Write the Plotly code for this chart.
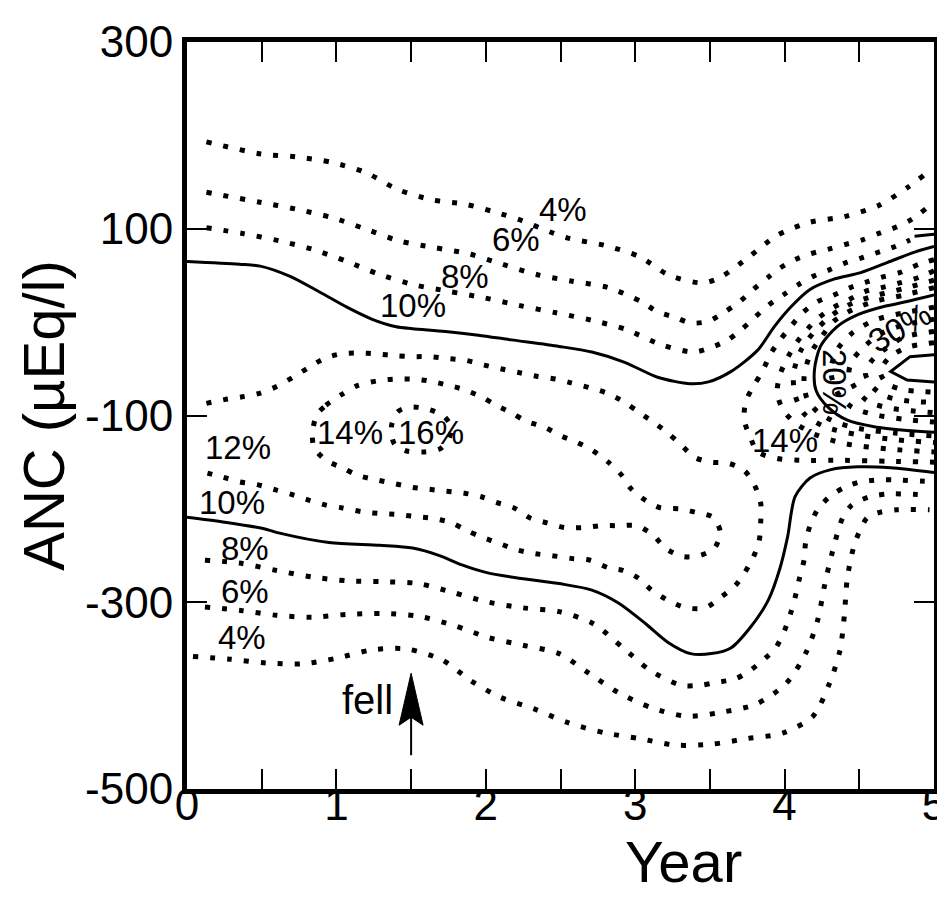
import plotly.graph_objects as go

# ---------------- data: contour lines, (Year, ANC in µEq/l) ----------------
# upper (top-left) family
c04_up_x = [0.13,0.5,0.73,0.97,1.2,1.41,1.64,1.87,2.1,2.22,2.44,2.55,2.8,3.03,3.23,3.45,3.57,3.77,3.95,4.17,4.4,4.63,4.83,4.93]
c04_up_y = [193,180,177,171,160,142,131,126,116,110,96,90,82,70,50,42,48,71,93,107,113,125,145,157]
c06_up_x = [0.13,0.5,0.73,0.97,1.19,1.42,1.65,1.89,2.11,2.34,2.57,2.82,3.04,3.15,3.27,3.37,3.49,3.6,3.7,3.79,3.89,3.97,4.07,4.17,4.29,4.4,4.52,4.63,4.75,4.85,4.95]
c06_up_y = [139,128,121,112,100,87,80,73,62,51,44,37,22,11,5,-1,1,11,22,35,48,58,67,73,78,83,88,95,102,110,122]
c08_up_x = [0.13,0.37,0.62,0.84,1.07,1.29,1.52,1.75,1.99,2.22,2.47,2.71,2.94,3.17,3.39,3.51,3.62,3.71,3.8,3.89,3.99,4.09,4.19,4.3,4.4,4.52,4.63,4.74,4.84]
c08_up_y = [101,95,87,78,65,51,40,33,26,18,10,2,-8,-24,-32,-27,-19,-8,5,18,29,40,49,56,63,69,75,81,88]
c08_stub_x = [4.87,5.0]
c08_stub_y = [92,94]
c10_up_x = [0,0.35,0.49,0.69,0.89,1.07,1.24,1.4,1.51,1.73,1.95,2.17,2.49,2.71,2.93,3.15,3.37,3.49,3.64,3.82,3.93,4.04,4.17,4.33,4.51,4.69,4.87,5.0]
c10_up_y = [65,62,60,49,32,16,3,-5,-7,-10,-14,-19,-26,-32,-43,-59,-66,-64,-53,-30,-5,16,35,46,53,64,75,81]

# left maximum (year ~1.5)
c12_x = [0.13,0.25,0.37,0.49,0.6,0.71,0.81,0.92,1.03,1.15,1.27,1.4,1.51,1.63,1.75,1.87,1.99,2.1,2.22,2.34,
         2.47,2.57,2.69,2.81,2.92,3.02,3.12,3.22,3.31,3.4,3.51,3.62,3.73,3.8,3.84,3.84,3.83,3.79,3.73,3.67,
         3.57,3.47,3.34,3.22,3.11,3.02,2.92,2.82,2.7,2.57,2.44,2.33,2.21,2.09,1.97,1.87,1.77,1.64,1.52,1.41,
         1.29,1.17,1.04,0.93,0.82,0.71,0.6,0.47,0.35,0.24,0.12]
c12_y = [-87,-83,-80,-76,-69,-59,-49,-39,-34,-33,-34,-36,-37,-37,-39,-41,-46,-50,-54,-58,
         -61,-65,-70,-76,-85,-96,-107,-119,-132,-145,-150,-151,-159,-175,-194,-214,-234,-252,-269,-282,
         -295,-306,-306,-298,-287,-274,-266,-263,-255,-253,-250,-248,-244,-237,-230,-223,-215,-210,-208,-206,
         -205,-203,-199,-196,-191,-185,-180,-174,-171,-166,-161]
c14_x = [0.87,0.93,1.04,1.14,1.27,1.39,1.51,1.62,1.73,1.85,1.97,2.07,2.17,2.27,2.4,2.49,2.6,2.71,2.82,2.91,
         2.97,3.07,3.17,3.3,3.41,3.52,3.57,3.53,3.43,3.32,3.2,3.12,3.01,2.9,2.77,2.65,2.53,2.41,2.3,2.19,
         2.07,1.97,1.85,1.73,1.62,1.51,1.39,1.27,1.14,1.04,0.93,0.85,0.84,0.87]
c14_y = [-99,-89,-77,-68,-63,-61,-61,-63,-67,-72,-80,-89,-97,-106,-113,-121,-128,-137,-150,-164,
         -178,-191,-199,-200,-204,-209,-225,-242,-250,-251,-242,-228,-218,-218,-218,-220,-220,-215,-210,-199,
         -193,-187,-183,-181,-179,-177,-173,-169,-164,-156,-148,-134,-118,-99]
c16_x = [1.37,1.41,1.49,1.61,1.72,1.77,1.75,1.69,1.59,1.47,1.39,1.37,1.37]
c16_y = [-110,-96,-91,-93,-101,-113,-126,-136,-139,-138,-131,-121,-110]

# lower family
c10_lo_x = [0,0.24,0.51,0.62,0.95,1.29,1.51,1.69,1.84,2.0,2.17,2.49,2.71,2.89,3.07,3.22,3.37,3.51,3.64,3.77,3.89,3.97,4.02,4.07,4.17,4.31,4.49,4.71,5.0]
c10_lo_y = [-209,-214,-221,-226,-236,-239,-242,-250,-260,-268,-273,-280,-287,-301,-323,-343,-355,-355,-349,-327,-298,-263,-230,-187,-167,-158,-155,-156,-161]
c08_lo_x = [0.12,0.35,0.6,0.84,1.07,1.31,1.55,1.79,2.02,2.25,2.49,2.72,2.92,3.1,3.31,3.43,3.54,3.67,3.77,3.87,3.94,4.0,4.04,4.07,4.1,4.13,4.14,4.17,4.22,4.3,4.4,4.51,4.63,4.75,4.99]
c08_lo_y = [-255,-258,-266,-273,-277,-278,-280,-290,-300,-306,-310,-323,-349,-373,-389,-389,-386,-382,-373,-360,-349,-330,-312,-295,-274,-255,-237,-218,-201,-187,-177,-171,-169,-169,-171]
c06_lo_x = [0.12,0.37,0.6,0.84,1.07,1.31,1.55,1.79,2.02,2.25,2.49,2.69,2.89,3.11,3.34,3.57,3.81,4.01,4.14,4.22,4.27,4.32,4.39,4.45,4.57,4.7,4.94]
c06_lo_y = [-305,-309,-314,-316,-313,-312,-315,-325,-338,-346,-355,-376,-397,-413,-422,-418,-409,-387,-355,-320,-280,-246,-209,-196,-187,-184,-185]
c04_lo_x = [0.04,0.29,0.53,0.77,1.0,1.24,1.47,1.71,1.9,2.1,2.32,2.55,2.8,3.03,3.27,3.51,3.75,3.99,4.19,4.3,4.37,4.4,4.42,4.47,4.55,4.63,4.75,4.97]
c04_lo_y = [-358,-361,-365,-366,-360,-351,-350,-362,-384,-402,-414,-429,-440,-446,-453,-452,-446,-440,-422,-387,-352,-314,-274,-237,-210,-204,-201,-201]

# right maximum (year ~5)
r12_x = [5.0,4.9,4.77,4.67,4.55,4.44,4.33,4.22,4.12,4.04,3.97,3.91,3.85,3.79,3.74,3.73,3.77,3.82,3.95,4.1,4.4,4.7,5.0]
r12_y = [67,62,53,49,43,37,29,22,10,-5,-19,-33,-53,-69,-85,-105,-123,-139,-146,-148,-148,-149,-150]
r14_x = [5.0,4.9,4.77,4.65,4.54,4.43,4.33,4.23,4.15,4.08,4.02,3.97,3.95,3.99,4.07,4.2,4.4,4.7,5.0]
r14_y = [55,48,42,37,33,24,16,5,-8,-22,-38,-56,-76,-94,-108,-120,-130,-136,-139]
r16_x = [5.0,4.8,4.6,4.45,4.32,4.2,4.11,4.06,4.07,4.13,4.27,4.5,4.75,5.0]
r16_y = [45,36,28,20,8,-10,-30,-55,-78,-98,-112,-121,-126,-129]
r18_x = [5.0,4.8,4.6,4.45,4.33,4.25,4.17,4.13,4.15,4.22,4.34,4.5,4.75,5.0]
r18_y = [37,29,22,13,1,-15,-35,-60,-82,-96,-107,-114,-119,-122]
r20_x = [5.0,4.82,4.67,4.49,4.35,4.24,4.2,4.21,4.29,4.42,4.6,4.82,5.0]
r20_y = [29,22,17,8,-5,-26,-51,-73,-91,-105,-112,-116,-118]
r22_x = [5.0,4.8,4.6,4.45,4.35,4.31,4.32,4.36,4.45,4.6,4.8,5.0]
r22_y = [16,10,2,-12,-30,-50,-62,-77,-91,-99,-104,-107]
r24_x = [5.0,4.8,4.65,4.52,4.45,4.43,4.48,4.57,4.7,4.85,5.0]
r24_y = [3,-3,-12,-28,-42,-55,-73,-86,-92,-95,-97]
r26_x = [5.0,4.8,4.68,4.58,4.54,4.58,4.67,4.8,5.0]
r26_y = [-10,-16,-28,-42,-54,-68,-79,-84,-86]
r28_x = [5.0,4.82,4.7,4.64,4.68,4.78,5.0]
r28_y = [-22,-27,-38,-53,-65,-72,-75]
r30_x = [5.0,4.84,4.71,4.82,5.0]
r30_y = [-35,-37,-53,-62,-64]

# contour labels
label_text = ["4%", "6%", "8%", "10%", "12%", "14%", "16%", "10%", "8%", "6%", "4%", "14%", "20%", "30%"]
label_x = [2.52, 2.2, 1.86, 1.51, 0.34, 1.09, 1.63, 0.3, 0.39, 0.39, 0.37, 4.0, 4.33, 4.77]
label_y = [121, 88, 49, 18, -134, -118, -118, -193, -242, -289, -338, -127, -64, -6]
label_angle = [0, 0, 0, 0, 0, 0, 0, 0, 0, 0, 0, 0, 90, -30]

# felling event
fell_year = 1.5
fell_anc = -376
fell_text = "fell"

# axis ticks
x_tickvals = [0, 1, 2, 3, 4, 5]
x_ticktext = ["0", "1", "2", "3", "4", "5"]
x_minorvals = [0.5, 1.5, 2.5, 3.5, 4.5]
y_tickvals = [300, 100, -100, -300, -500]
y_ticktext = ["300", "100", "-100", "-300", "-500"]
x_title = "Year"
y_title = "ANC (µEq/l)"

# ---------------- figure ----------------
FONT = "Liberation Sans, Arial, sans-serif"
DOT = dict(color="black", width=5, dash="5px,12px")
SOLID = dict(color="black", width=3)

fig = go.Figure()

def add(x, y, style, shape="spline"):
    line = dict(**style, shape=shape)
    if shape == "spline":
        line["smoothing"] = 0.8
    fig.add_trace(go.Scatter(x=x, y=y, mode="lines", line=line,
                             hoverinfo="skip", showlegend=False))

for xs, ys in [(c04_up_x, c04_up_y), (c06_up_x, c06_up_y), (c08_up_x, c08_up_y),
               (c12_x, c12_y), (c14_x, c14_y), (c16_x, c16_y),
               (c08_lo_x, c08_lo_y), (c06_lo_x, c06_lo_y), (c04_lo_x, c04_lo_y),
               (r12_x, r12_y), (r14_x, r14_y), (r16_x, r16_y), (r18_x, r18_y),
               (r22_x, r22_y), (r24_x, r24_y), (r26_x, r26_y), (r28_x, r28_y)]:
    add(xs, ys, DOT)

for xs, ys in [(c10_up_x, c10_up_y), (c10_lo_x, c10_lo_y), (r20_x, r20_y), (c08_stub_x, c08_stub_y)]:
    add(xs, ys, SOLID)
add(r30_x, r30_y, SOLID, shape="linear")

for t, x, y, a in zip(label_text, label_x, label_y, label_angle):
    fig.add_annotation(x=x, y=y, text=t, showarrow=False, textangle=a,
                       font=dict(family=FONT, size=33, color="black"))

# fell marker: stem and notched arrowhead, anchored at the event (pixel-sized)
fig.add_shape(type="path", xref="x", yref="y", xsizemode="pixel", ysizemode="pixel",
              xanchor=fell_year, yanchor=fell_anc,
              path="M0,-40 L0,-82", line=dict(color="black", width=2))
fig.add_shape(type="path", xref="x", yref="y", xsizemode="pixel", ysizemode="pixel",
              xanchor=fell_year, yanchor=fell_anc,
              path="M0,0 L-12,-52 L0,-44 L12,-52 Z", fillcolor="black", line=dict(color="black", width=1))
fig.add_annotation(x=fell_year, y=fell_anc, text=fell_text, showarrow=False,
                   xanchor="right", yanchor="middle", xshift=-16, yshift=-27,
                   font=dict(family=FONT, size=40, color="black"))

# x-axis title (sits right of centre, as in the cropped original)
fig.add_annotation(xref="paper", yref="paper", x=0.664, y=-0.097, text=x_title,
                   showarrow=False, xanchor="center", yanchor="middle",
                   font=dict(family=FONT, size=58, color="black"))

axis_common = dict(showline=True, linewidth=5, linecolor="black", mirror="ticks",
                   ticks="inside", ticklen=20, tickwidth=2, tickcolor="black",
                   showgrid=False, zeroline=False, automargin=False,
                   tickfont=dict(family=FONT, size=44, color="black"))

fig.update_xaxes(range=[0, 5], tickmode="array", tickvals=x_tickvals, ticktext=x_ticktext,
                 minor=dict(tickmode="array", tickvals=x_minorvals, ticks="inside", ticklen=20,
                            tickwidth=2, tickcolor="black"),
                 ticklabeloverflow="allow", ticklabelstandoff=-27,
                 **axis_common)
fig.update_yaxes(range=[-500, 300], tickmode="array", tickvals=y_tickvals, ticktext=y_ticktext,
                 title=dict(text=y_title, font=dict(family=FONT, size=58, color="black"), standoff=3),
                 **axis_common)

fig.update_layout(width=937, height=900, autosize=False,
                  margin=dict(l=187, r=3, t=42, b=111),
                  plot_bgcolor="white", paper_bgcolor="white")

fig.write_html("out.html")
